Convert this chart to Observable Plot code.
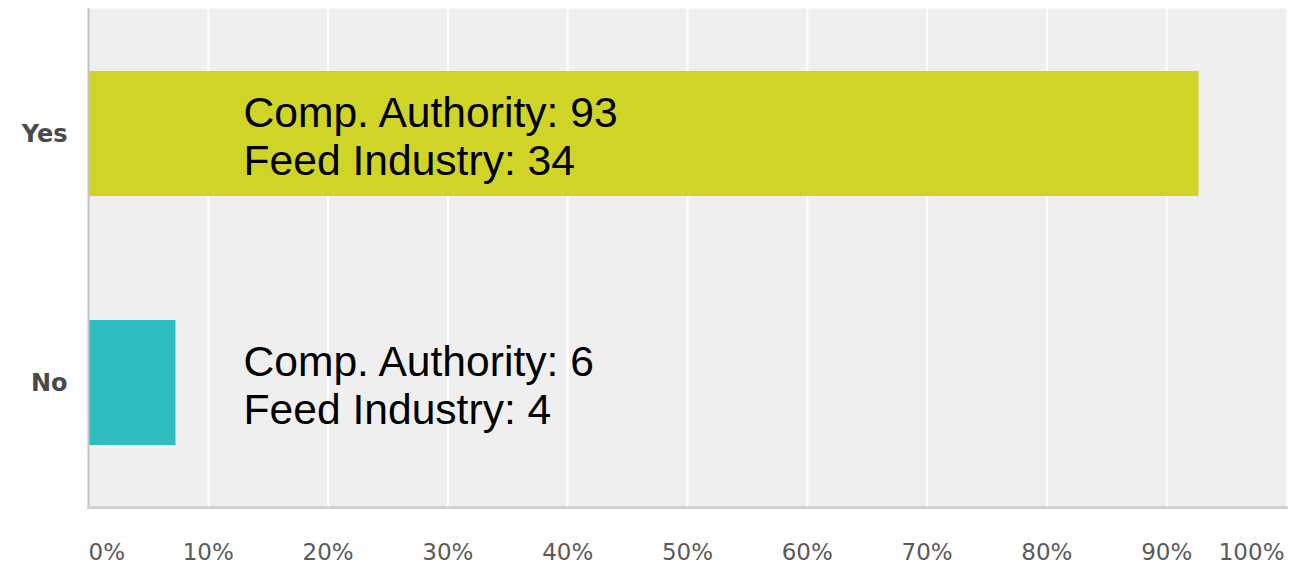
<!DOCTYPE html>
<html>
<head>
<meta charset="utf-8">
<script src="https://cdn.jsdelivr.net/npm/d3@7"></script>
<script src="https://cdn.jsdelivr.net/npm/@observablehq/plot@0.6"></script>
<style>
  html, body { margin: 0; padding: 0; background: #ffffff; }
  #chart { width: 1303px; height: 566px; }
</style>
</head>
<body>
<div id="chart"></div>
<script>
const answers = ["Yes", "No"];
const compAuthority = [93, 6];
const feedIndustry = [34, 4];
const barColors = ["#cfd427", "#30bdbf"];
const xTicks = [0, 10, 20, 30, 40, 50, 60, 70, 80, 90, 100];

const total = d3.sum(compAuthority) + d3.sum(feedIndustry);
const data = answers.map((a, i) => ({
  answer: a,
  pct: (compAuthority[i] + feedIndustry[i]) / total * 100,
  label: `Comp. Authority: ${compAuthority[i]}\nFeed Industry: ${feedIndustry[i]}`,
  color: barColors[i]
}));

const fmt = d => d + "%";
const tickStyle = { tickSize: 0, tickPadding: 36, tickFormat: fmt, fontSize: 23, fill: "#5a5a5a", label: null };

const chart = Plot.plot({
  width: 1303,
  height: 566,
  marginLeft: 88,
  marginRight: 17,
  marginTop: 8,
  marginBottom: 59,
  style: { fontFamily: "'DejaVu Sans', Verdana, sans-serif", background: "#ffffff" },
  x: { domain: [0, 100] },
  y: { domain: answers, paddingInner: 0.5, paddingOuter: 0.25 },
  marks: [
    Plot.frame({ fill: "#efefef", stroke: null }),
    Plot.gridX(xTicks.slice(1, -1), { stroke: "#ffffff", strokeOpacity: 1, strokeWidth: 2 }),
    Plot.barX(data, { y: "answer", x: "pct", fill: "color" }),
    Plot.ruleX([0], { stroke: "#c4c4c4", strokeWidth: 2 }),
    Plot.frame({ anchor: "bottom", stroke: "#d2d2d2", strokeWidth: 3 }),
    Plot.text(data, {
      y: "answer", x: 0, text: "label", dx: 155, dy: 2,
      textAnchor: "start", lineAnchor: "middle", lineHeight: 1.13,
      fontSize: 42.6, fontFamily: "'Liberation Sans', Arial, sans-serif", fill: "#000000"
    }),
    Plot.axisY({ tickSize: 0, tickPadding: 21, fontSize: 24, fontWeight: "bold", fill: "#4a4a4a", label: null }),
    Plot.axisX(xTicks.slice(1, -1), { ...tickStyle }),
    Plot.axisX([xTicks[0]], { ...tickStyle, textAnchor: "start" }),
    Plot.axisX([xTicks[xTicks.length - 1]], { ...tickStyle, textAnchor: "end", dx: -2 })
  ]
});
document.getElementById("chart").appendChild(chart);
</script>
</body>
</html>
